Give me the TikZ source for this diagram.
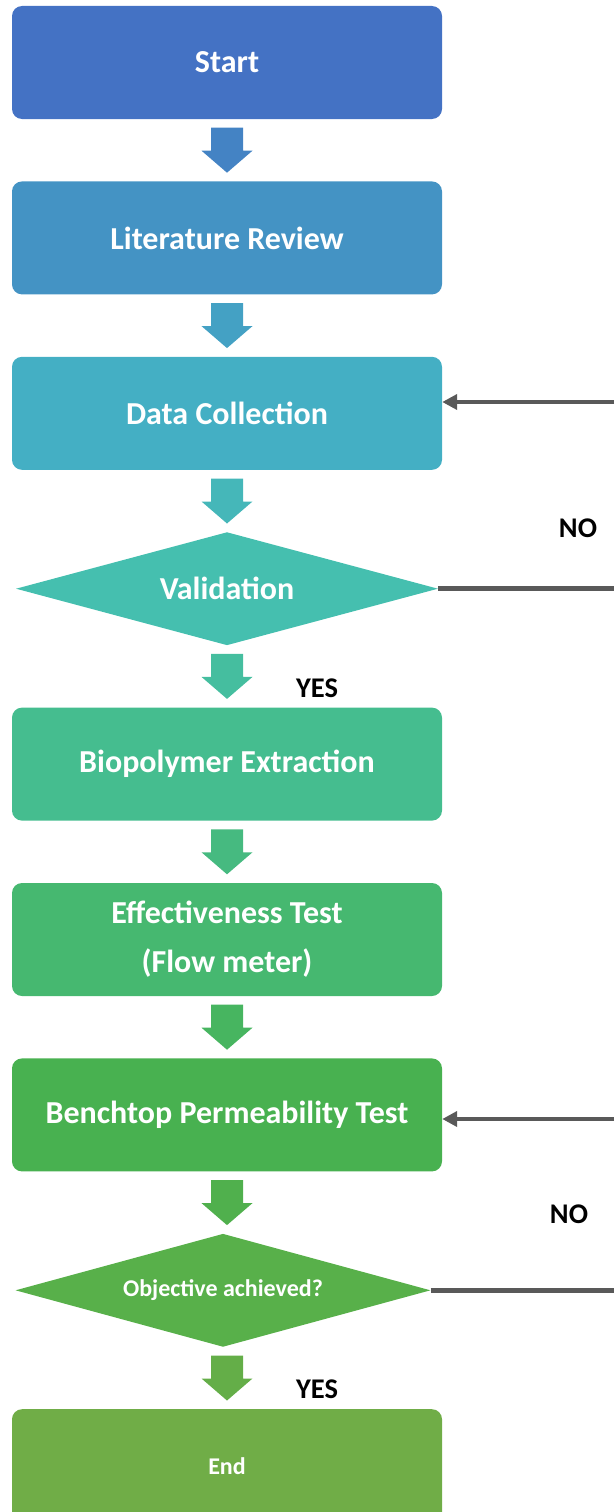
\documentclass[tikz,border=0pt]{standalone}
\usepackage{fontspec}
\setmainfont{Carlito}
\usetikzlibrary{positioning,calc,shapes.geometric,arrows.meta}

\definecolor{cstart}{HTML}{4472C4}
\definecolor{clit}{HTML}{4493C4}
\definecolor{cdata}{HTML}{44AFC4}
\definecolor{cvalid}{HTML}{45BFAF}
\definecolor{cbio}{HTML}{45BD8F}
\definecolor{ceff}{HTML}{46B870}
\definecolor{cbench}{HTML}{48B150}
\definecolor{cobj}{HTML}{58B04A}
\definecolor{cend}{HTML}{70AD47}
\definecolor{lineGrey}{HTML}{595959}

\tikzset{
  stepbox/.style={rectangle, rounded corners=10pt, minimum width=430pt,
    minimum height=113pt, inner sep=0pt, text=white, align=center,
    font=\bfseries\fontsize{32}{49}\selectfont},
  testbox/.style={diamond, aspect=3.7, minimum width=422pt,
    minimum height=113pt, inner sep=0pt, text=white,
    font=\bfseries\fontsize{32}{38}\selectfont},
  backline/.style={draw=lineGrey, line width=4.5pt},
  answer/.style={font=\bfseries\fontsize{28.5}{32}\selectfont}
}

\begin{document}
\begin{tikzpicture}[x=1pt, y=-1pt, node distance=62pt]
    \useasboundingbox (0,0) rectangle (614,1512);

    % main column
    \node[stepbox, fill=cstart] (start) at (227,62.5) {Start};
    \node[stepbox, fill=clit, below=of start] (lit) {Literature Review};
    \node[stepbox, fill=cdata, below=of lit] (data) {Data Collection};
    \node[testbox, fill=cvalid, below=of data] (valid) {Validation};
    \node[stepbox, fill=cbio, below=of valid] (bio) {Biopolymer Extraction};
    \node[stepbox, fill=ceff, below=of bio] (eff) {Effectiveness Test\\(Flow meter)};
    \node[stepbox, fill=cbench, below=of eff] (bench) {Benchtop Permeability Test};
    \node[testbox, fill=cobj, below=of bench, xshift=-4pt, minimum width=415pt,
          font=\bfseries\fontsize{24}{28}\selectfont] (obj) {Objective achieved?};
    \node[stepbox, fill=cend, below=of obj, xshift=4pt,
          font=\bfseries\fontsize{24}{28}\selectfont] (end) {End};

    % block arrows between the steps
    \foreach \a/\b in {start/lit, lit/data, data/valid, valid/bio, bio/eff,
                       eff/bench, bench/obj, obj/end} {
        \coordinate (arr-\a) at ($(\a.south -| start)!0.5!(\b.north -| start)$);
        \fill[c\a!50!c\b, shift={(arr-\a)}] (-16,-22.5) -- (16,-22.5) -- (16,0.5)
            -- (25.5,0.5) -- (0,22.5) -- (-25.5,0.5) -- (-16,0.5) -- cycle;
    }

    % loops back on NO
    \coordinate (ret1) at (614,402);
    \coordinate (ret2) at (614,1119);
    \draw[backline] (valid.east) -- (valid.east -| ret1);
    \draw[backline, -{Triangle[length=15pt,width=15pt]}] (ret1) -- (ret1 -| data.east);
    \draw[backline] (obj.east) -- (obj.east -| ret2);
    \draw[backline, -{Triangle[length=15pt,width=15pt]}] (ret2) -- (ret2 -| bench.east);

    \node[answer] (no1) at (578,528) {NO};
    \node[answer] (yes1) at (317,688) {YES};
    \node[answer] (no2) at (569,1214) {NO};
    \node[answer] (yes2) at (317,1389) {YES};
\end{tikzpicture}
\end{document}
